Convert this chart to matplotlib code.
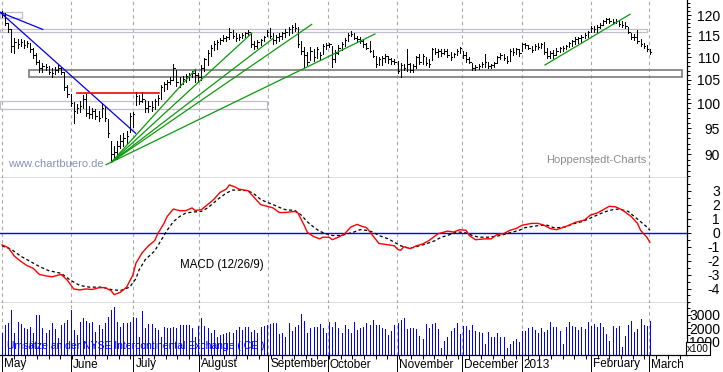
import matplotlib
matplotlib.use("Agg")
import matplotlib.pyplot as plt
from matplotlib.patches import Rectangle
from matplotlib.ticker import FixedLocator, MultipleLocator, NullFormatter

plt.rcParams['font.family'] = ['Liberation Sans', 'DejaVu Sans']
plt.rcParams['axes.unicode_minus'] = False

W, H = 723, 372

# x axis: trading day index, month starts
months = ["May", "June", "July", "August", "September", "October",
          "November", "December", "2013", "February", "March"]
month_pos = [0, 22, 42.2, 63.3, 85.5, 104.6, 126.7, 147.6, 166.8, 189, 207.8]

# daily bars (high / low / close), May 2012 .. Feb 2013
high = [121, 120.5, 118, 116.5, 114.5, 114.3, 114.2, 114, 113.8, 113.2,     # May
        112.2, 111, 109.3, 108.7, 108.5, 108, 107.5, 107.8, 108.2, 107.8,
        106.8, 103.9,
        102, 100.2, 99.8, 100.5, 101.8, 102, 99.5, 99, 98.8, 98.5,          # June
        100, 99.2, 96.8, 92.5, 91.5, 92.5, 93.7, 94, 94.5, 98, 98.3,
        102.4, 101.8, 102.4, 100.7, 100.5, 100.5, 101, 101.8, 103.9, 104.5,  # July
        105, 105.5, 108.4, 107.1, 105.5, 105.8, 106.2, 106.5, 107, 107.3, 106.5,
        108.2, 109.8, 111.6, 112.8, 113.8, 114, 114.4, 115.2, 115, 116.8,    # August
        116.4, 115.6, 115.3, 115.6, 116, 116.4, 115.6, 113.8, 113.9, 114.2,
        115, 116.4, 116.8,
        115.6, 115.2, 115.6, 116, 116.5, 117, 117.6, 118, 117.2, 113.8,      # September
        112.3, 111.1, 112.3, 111.8, 112.3, 111.1, 113, 113.2, 113.3,
        112.5, 111.6, 112.8, 113.5, 114.4, 115.6, 116.2, 115.6, 115, 114.8,  # October
        114.2, 113.3, 113.8, 111.6, 110.3, 110, 110.3, 110.7, 110.2, 109.8, 109.5,
        109.2, 108.7, 108.4, 111.9, 108.7, 108.5, 110.2, 110.7, 110.7, 110,  # November
        109.6, 112.2, 112.2, 111.8, 111.8, 111.8, 111.8, 111.2, 111, 111.8, 112.3,
        111.5, 111.2, 110, 108.7, 108.2, 108.4, 108.9, 110.7, 109, 108.5,    # December
        109, 110.2, 111, 110.7, 110.2, 111.9, 112, 112.2, 111.9, 113.3,
        113.2, 112.8, 112.5, 113, 113.3, 113.3, 113.6, 112, 111.5, 111.6,    # January
        112, 112.4, 112.5, 112.9, 113.5, 114, 114.6, 114.7, 115.1, 115.6, 116.2,
        117.4, 117.3, 117.6, 118, 118.8, 119.3, 119.3, 119, 119, 118.8,      # February
        118.6, 118.4, 117.2, 115.6, 115.4, 116.4, 114.2, 113.3, 112.8, 111.8]
low = [119.5, 117.5, 116, 111.2, 111, 112, 112.5, 112, 112.3, 111.2,
       109.8, 108.4, 106.8, 106.8, 107.2, 106.3, 105.6, 106.2, 106.8, 106.2,
       102.8, 101.3,
       99.5, 96, 98, 98.3, 99, 97.5, 97, 97, 96.8, 96.5,
       97.3, 96.5, 93.2, 88.8, 89, 89.2, 91.2, 91.6, 92.2, 94.2, 95.3,
       99.6, 99.8, 100.3, 98.3, 98.3, 98.5, 98.8, 99.6, 101, 102.5,
       103, 104, 105, 103.6, 103.5, 104, 104.5, 105, 105.5, 104.6, 104.8,
       105, 107, 108.2, 110.3, 111.6, 111.8, 113, 113.8, 113.8, 114.2,
       114.4, 113.8, 114, 114.4, 114.8, 115.2, 112.3, 111.8, 112.2, 112.8,
       113.8, 115, 114.4,
       113, 113.2, 113.8, 114.2, 114.8, 115.2, 115.6, 116.2, 112.3, 110.7,
       107.8, 108.2, 109.3, 109.2, 109.9, 109.3, 110.7, 111.8, 112.3,
       107.8, 109, 110.7, 111.6, 112.5, 113.8, 115, 114.2, 113.8, 113.2,
       112.3, 111.9, 111.1, 110, 107.8, 108.2, 108.2, 109, 108.8, 108.5, 108.5,
       106.5, 105.5, 107.1, 107, 106.8, 106.6, 107.5, 108.5, 108.5, 108.2,
       107.8, 109.3, 110.7, 110, 110.3, 110.7, 110, 109.3, 110, 110.6, 110.9,
       109.8, 108.9, 108.7, 107.1, 107.1, 107.4, 107.7, 107.8, 107.5, 107.6,
       107.8, 108.6, 109.6, 109.4, 108.7, 109.2, 110.4, 110.7, 110.2, 111.5,
       112.2, 111.9, 111.2, 111.6, 111.8, 112, 110.8, 109.8, 109.8, 109.8,
       110.5, 111.3, 111.5, 111.9, 112.3, 112.5, 113, 113.3, 113.5, 114.4, 114.8,
       115.8, 116, 116, 116.8, 117.6, 118, 118.1, 117.8, 118, 117.4,
       117.2, 116.8, 115.6, 114.2, 114, 113.3, 112.6, 112.2, 111.4, 110.8]
close = [120, 118, 116.5, 112.5, 113.5, 113, 113.5, 112.8, 113.2, 111.8,
         110.5, 109, 107.5, 108, 107.8, 106.8, 106.5, 107.2, 107.5, 106.6,
         103.5, 102,
         100, 98.5, 99, 99.5, 101, 98, 97.8, 98.5, 97.5, 97,
         99, 97, 94, 90, 90.5, 91.5, 92.5, 93, 93.5, 97.5, 97.8,
         101.5, 100.5, 101, 99, 99.5, 99.2, 100.5, 101.2, 103.5, 104,
         104.5, 105, 107.5, 104.5, 104, 105.2, 105.8, 106, 106.5, 106, 105.5,
         107.5, 109.5, 111, 112.2, 113, 113.5, 114, 114.5, 114.8, 116,
         115, 114.5, 114.8, 115.2, 115.6, 115.8, 113, 112.6, 113.5, 114,
         114.6, 116, 115,
         114, 114.8, 115, 115.6, 116, 116.5, 117.2, 116.8, 113, 111.5,
         110.5, 109, 111.5, 110, 111.8, 110.5, 112.5, 112.8, 113,
         109.5, 111, 112, 113, 114, 115.2, 115.5, 114.5, 114.2, 113.8,
         113, 112.2, 111.5, 110.3, 108.5, 109.5, 109.8, 110.2, 109.5, 109.2, 109,
         107, 108.2, 107.5, 108.5, 107.2, 108, 110, 109, 110.2, 108.8,
         108.5, 111.8, 111.2, 111.5, 111, 111.5, 110.5, 110, 110.8, 111.5, 112,
         110.5, 109.5, 109, 107.5, 107.8, 108, 108.5, 109, 108, 108.2,
         108.8, 110, 110.5, 109.8, 109.2, 111.5, 111.2, 111.8, 111, 113,
         112.8, 112.2, 111.6, 112.6, 112.4, 113, 111.2, 110.2, 111, 110.5,
         111.5, 112, 112.2, 112.6, 113.2, 113.8, 114.2, 114.4, 114.8, 115.2, 116,
         116.8, 116.5, 117.2, 117.6, 118.5, 119, 118.6, 118.4, 118.6, 117.8,
         117.6, 117.4, 115.8, 114.6, 114.8, 113.8, 113, 112.6, 111.8, 111.2]

# volume (x100)
volume = [1630, 2255, 2380, 3380, 1680, 2500, 2330, 2000, 1930, 2080,
          1630, 3000, 3000, 2000, 1680, 1880, 2380, 1930, 1250, 2255,
          2380, 2630, 3380, 1880, 1500, 2500, 2800, 2580, 2430, 2500,
          1750, 2255, 1930, 2430, 2880, 3380, 3580, 2500, 2130, 2380,
          2380, 2500, 2880, 2760, 1380, 3330, 2000, 2330, 2330, 2000,
          1880, 1380, 2130, 2000, 2000, 2130, 2000, 2255, 2255, 2255,
          2255, 2000, 1380, 2180, 2760, 2180, 2000, 1630, 1880, 1380,
          1500, 1580, 1630, 1750, 1680, 1880, 2130, 1880, 2130, 2130,
          1750, 1880, 1680, 2130, 2180, 2255, 2330, 2380, 2430, 1580,
          1630, 1380, 2430, 1830, 2130, 2255, 3080, 2580, 1680, 2000,
          2080, 2130, 2330, 2000, 1630, 2500, 2130, 2500, 2000, 1680,
          2255, 1930, 1630, 2500, 1880,
          2000, 2130, 2430, 2255, 2630, 2255, 2255, 2000, 1930, 1500,
          1830, 2255, 2430, 2630, 2760, 1930, 2000, 2050, 1930, 1430,
          1180, 2330, 2050, 2330, 2430, 1930, 500, 1080, 1380, 1830,
          2000, 2380, 1580, 2180, 2180, 1880, 2255, 1800, 1700, 1680,
          830, 1750, 1380, 1380, 1630, 1380, 1380, 550, 830, 1080,
          1180, 1000, 1800, 1800, 2050, 2130, 1880, 1680, 2050, 1750,
          1880, 2500, 2130, 2130, 1830, 800, 2130, 2500, 2180, 2130,
          1880, 2130, 1930, 2500, 2180, 2330, 2130, 2430, 2130, 1550,
          1080, 2200, 2000, 2200, 630, 1450, 2255, 2550, 1750, 1950,
          2700, 2255, 2200, 2550]

# MACD (12/26/9) line and signal, read at these days
macd_day = [0, 2, 4, 6, 8, 10, 12, 14, 16, 19, 21, 23, 25, 27, 29, 31, 33, 35,
            36, 38, 40, 42, 43, 45, 47, 49, 50, 52, 53, 55, 57, 59, 61, 62, 64,
            66, 68, 70, 72, 73, 75, 76, 79, 81, 83, 85, 87, 89, 91, 94, 95, 97,
            98, 100, 102, 103, 105, 106, 108, 110, 112, 114, 115, 117, 119, 121,
            124, 126, 127, 128, 129, 131, 133, 135, 137, 140, 142, 143, 145, 147,
            149, 150, 152, 155, 157, 159, 161, 163, 165, 167, 170, 172, 174, 176,
            178, 180, 182, 184, 187, 189, 191, 193, 195, 197, 199, 202, 204, 205,
            207, 208]
macd = [-0.87, -1.07, -1.68, -2.05, -2.35, -2.55, -2.99, -3.09, -3.16, -2.99,
        -3.41, -4.03, -4.1, -4.03, -4.07, -3.95, -3.93, -4.15, -4.44, -4.27,
        -3.9, -3.04, -2.18, -1.44, -0.94, -0.57, -0.07, 0.67, 1.16, 1.7,
        1.58, 1.58, 1.78, 1.6, 1.65, 2.02, 2.39, 2.89, 3.13, 3.43,
        3.26, 3.13, 3.01, 2.52, 2.02, 1.9, 1.78, 1.45, 1.45, 1.53,
        1.41, 0.54, 0.04, -0.27, -0.44, -0.32, -0.32, -0.5, -0.32, -0.07,
        0.41, 0.6, 0.5, 0.37, -0.2, -0.77, -0.87, -0.94, -1.19, -1.26,
        -1.0, -1.14, -0.94, -0.81, -0.57, -0.07, 0.05, 0.12, 0.05, 0.22,
        0.17, -0.2, -0.5, -0.44, -0.44, -0.12, -0.07, 0.17, 0.3, 0.54,
        0.67, 0.67, 0.54, 0.3, 0.22, 0.37, 0.54, 0.74, 0.91, 1.28,
        1.41, 1.65, 1.9, 1.85, 1.65, 1.16, 0.67, 0.17, -0.32, -0.69]
signal_day = [0, 3, 6, 9, 12, 15, 19, 22, 25, 28, 32, 35, 38, 41, 43, 44, 46,
              49, 51, 53, 55, 57, 59, 61, 64, 66, 68, 70, 72, 74, 76, 79, 81,
              83, 85, 87, 89, 91, 94, 96, 98, 100, 102, 104, 106, 109, 111, 113,
              115, 117, 119, 121, 124, 126, 128, 130, 132, 134, 136, 139, 141,
              143, 145, 147, 149, 151, 153, 156, 158, 160, 162, 164, 166, 168,
              171, 173, 175, 177, 179, 181, 183, 186, 188, 190, 192, 194, 196,
              198, 201, 203, 205, 207, 208]
signal = [-0.94, -1.19, -1.68, -2.05, -2.42, -2.72, -2.91, -3.41, -3.78, -3.9,
          -3.9, -4.07, -4.15, -3.9, -3.29, -2.67, -1.93, -1.31, -0.57, 0.17,
          0.79, 1.16, 1.41, 1.48, 1.53, 1.78, 2.15, 2.52, 2.84, 3.06,
          3.06, 3.01, 2.77, 2.39, 2.19, 2.02, 1.82, 1.65, 1.6, 1.28,
          0.79, 0.41, 0.1, -0.07, -0.2, -0.2, -0.07, 0.05, 0.22, 0.17,
          0.05, -0.2, -0.44, -0.69, -0.94, -1.07, -1.07, -0.94, -0.81, -0.57,
          -0.32, -0.2, -0.02, 0.05, -0.02, -0.2, -0.32, -0.32, -0.27, -0.2,
          -0.07, 0.05, 0.17, 0.37, 0.47, 0.54, 0.54, 0.37, 0.37, 0.42,
          0.61, 0.79, 0.96, 1.16, 1.36, 1.53, 1.65, 1.7, 1.53, 1.16,
          0.79, 0.42, 0.17]

# drawn chart tools (day, price)
fan_lines = [((35.2, 88.6), (62.2, 107.3)),
             ((35.2, 88.6), (80.2, 115.6)),
             ((35.2, 88.6), (87.1, 114.4)),
             ((35.2, 88.6), (99.4, 117.7)),
             ((33.4, 88.1), (119.7, 115.4)),
             ((174.3, 108.25), (201.6, 120.2))]
blue_lines = [((-0.6, 120.7), (42.9, 94.0)),
              ((-0.6, 120.7), (13.1, 116.5))]
red_line = ((24.0, 102.1), (50.4, 102.1))
# (day0, day1, price_lo, price_hi, dark?)
boxes = [(-0.6, 6.4, 119.4, 120.8, False),
         (-0.6, 207.1, 115.8, 116.5, False),
         (-0.6, 85.2, 98.8, 100.5, False),
         (8.7, 218.2, 105.7, 107.1, True)]

days = list(range(len(high)))
xlim = (-0.64, 219.9)
px = 0.72  # one pixel in points

fig = plt.figure(figsize=(W / 100, H / 100), dpi=100)
ax_p = fig.add_axes([0, 1 - 177.5 / H, 687 / W, 177.5 / H])
ax_m = fig.add_axes([0, 1 - 303.3 / H, 687 / W, 125.8 / H])
ax_v = fig.add_axes([0, 1 - 355 / H, 687 / W, 51.7 / H])

grid_kw = dict(color='#a8a8a8', lw=0.8, ls=(0, (3, 3)), zorder=0)
for ax in (ax_p, ax_m, ax_v):
    ax.set_xlim(*xlim)
    ax.set_facecolor('white')
    for p in month_pos:
        ax.axvline(p, **grid_kw)
    ax.yaxis.tick_right()
    ax.spines['left'].set_visible(False)
    ax.spines['top'].set_visible(False)
    for s in ('right', 'bottom'):
        ax.spines[s].set_linewidth(0.9)
    ax.tick_params(axis='y', which='major', direction='out', length=3.2, width=0.7,
                   pad=20.5, labelsize=10)
    ax.tick_params(axis='y', which='minor', direction='out', length=2.2, width=0.7)

# ---- price panel
ax_p.set_yscale('log')
ax_p.set_ylim(85.8, 123.8)
ax_p.vlines(days, low, high, color='black', lw=px, antialiased=False, zorder=3)
ax_p.hlines(close, days, [d + 0.5 for d in days], color='black',
            lw=px, antialiased=False, zorder=3)
for x0, x1, y0, y1, dark in boxes:
    ax_p.add_patch(Rectangle((x0, y0), x1 - x0, y1 - y0, fill=False,
                             ec='#7a7a7a' if dark else '#c4bcc8',
                             lw=1.2 if dark else 0.9, zorder=2))
for (a, b) in fan_lines:
    ax_p.plot([a[0], b[0]], [a[1], b[1]], color='#0a9a0a', lw=0.9, zorder=4)
for (a, b) in blue_lines:
    ax_p.plot([a[0], b[0]], [a[1], b[1]], color='#0000ee', lw=0.9, zorder=4)
ax_p.plot([red_line[0][0], red_line[1][0]], [red_line[0][1], red_line[1][1]],
          color='red', lw=1.2, zorder=4)
ax_p.yaxis.set_major_locator(FixedLocator([90, 95, 100, 105, 110, 115, 120]))
ax_p.yaxis.set_minor_locator(FixedLocator(list(range(86, 124))))
ax_p.yaxis.set_major_formatter(plt.FuncFormatter(lambda v, _: f"{v:.0f}"))
ax_p.yaxis.set_minor_formatter(NullFormatter())
ax_p.set_xticks([])

# ---- MACD panel
ax_m.set_ylim(-5.06, 3.96)
ax_m.axhline(0, color='#0000ff', lw=1, zorder=2)
ax_m.plot(signal_day, signal, color='black', lw=0.9, ls=(0, (2.5, 2)), zorder=3)
ax_m.plot(macd_day, macd, color='red', lw=1, zorder=4)
ax_m.yaxis.set_major_locator(FixedLocator([-4, -3, -2, -1, 0, 1, 2, 3]))
ax_m.yaxis.set_minor_locator(MultipleLocator(0.5))
ax_m.set_xticks([])

# ---- volume panel
ax_v.set_ylim(0, 3873)
ax_v.vlines(days, 0, volume, color='#0000ff', lw=px, antialiased=False, zorder=3)
ax_v.yaxis.set_major_locator(FixedLocator([1000, 2000, 3000]))
ax_v.yaxis.set_minor_locator(MultipleLocator(500))
ax_v.set_xticks(month_pos)
ax_v.set_xticklabels([])
ax_v.xaxis.set_minor_locator(MultipleLocator(3.75))
ax_v.tick_params(axis='x', which='major', direction='out', length=12.5, width=0.7)
ax_v.tick_params(axis='x', which='minor', direction='out', length=3, width=0.7)
for name, p in zip(months, month_pos):
    ax_v.annotate(name, xy=(p, 0), xycoords=('data', 'axes fraction'),
                  xytext=(2, -9.5), textcoords='offset pixels',
                  ha='left', va='center', fontsize=8.5)

for ax in (ax_p, ax_m, ax_v):
    for lab in ax.get_yticklabels():
        lab.set_horizontalalignment('right')

# ---- texts
def fx(x):
    return x / W

def fy(y):
    return 1 - y / H

fig.text(fx(8), fy(164), "www.chartbuero.de", color='#8494b4', fontsize=8,
         ha='left', va='center')
fig.text(fx(546), fy(160), "Hoppenstedt-Charts", color='#8c8c8c', fontsize=8,
         ha='left', va='center')
fig.text(fx(180), fy(265), "MACD (12/26/9)", color='black', fontsize=8.3,
         ha='left', va='center')
fig.text(fx(7), fy(346), "Umsätze an der NYSE Intercontinental Exchange (ICE )",
         color='#0000ff', fontsize=7.5, ha='left', va='center', zorder=5)
fig.text(fx(698), fy(348.5), "x100", fontsize=7.2, ha='center', va='center', zorder=10,
         bbox=dict(boxstyle='square,pad=0.12', fc='white', ec='black', lw=0.8))

fig.savefig("out.png", dpi=100)
